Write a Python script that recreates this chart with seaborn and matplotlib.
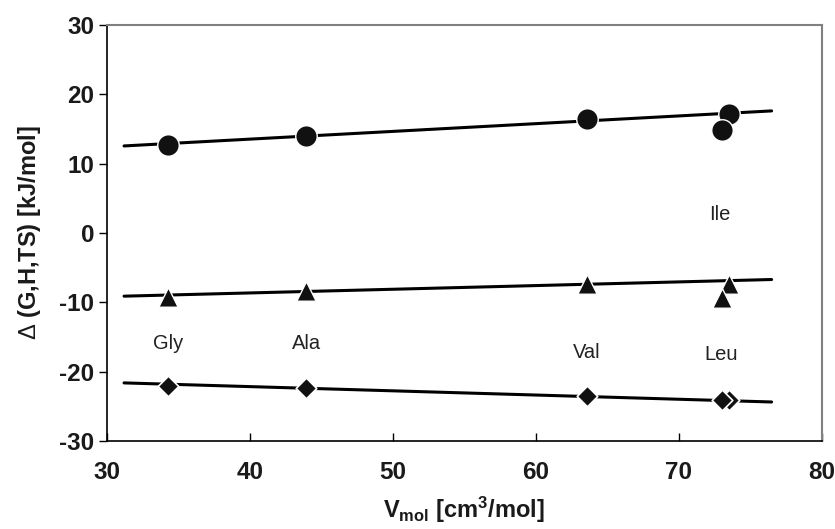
import matplotlib
matplotlib.use("Agg")
import matplotlib.pyplot as plt
import seaborn as sns
import numpy as np

# ---- data ----
amino = ["Gly", "Ala", "Val", "Ile", "Leu"]
vmol = [34.3, 43.9, 63.6, 73.5, 73.0]
dG = [12.7, 14.0, 16.4, 17.2, 14.8]        # circles
dH = [-9.2, -8.4, -7.4, -7.3, -9.3]        # triangles
dTS = [-22.0, -22.3, -23.5, -24.0, -24.0]  # diamonds

fit_x = [31.2, 76.5]
fit_G = [12.55, 17.6]
fit_H = [-9.1, -6.7]
fit_TS = [-21.6, -24.35]

label_names = ["Gly", "Ala", "Val", "Leu", "Ile"]
label_x = [34.3, 44.0, 63.6, 73.0, 72.9]
label_y = [-15.9, -15.9, -17.2, -17.5, 2.6]

xticks = [30, 40, 50, 60, 70, 80]
yticks = [-30, -20, -10, 0, 10, 20, 30]

sns.set_theme(style="white")
plt.rcParams['font.family'] = ['Liberation Sans', 'DejaVu Sans']
plt.rcParams['axes.unicode_minus'] = False
plt.rcParams['mathtext.fontset'] = 'custom'
plt.rcParams['mathtext.rm'] = 'Liberation Sans:bold'
plt.rcParams['mathtext.bf'] = 'Liberation Sans:bold'
plt.rcParams['mathtext.it'] = 'Liberation Sans:bold'
plt.rcParams['mathtext.sf'] = 'Liberation Sans'

fig = plt.figure(figsize=(8.35, 5.29), dpi=100)
ax = fig.add_axes([0.128, 0.166, 0.856, 0.787])

for fy in (fit_G, fit_H, fit_TS):
    sns.lineplot(x=fit_x, y=fy, ax=ax, color='black', linewidth=2.2, zorder=2)

sns.scatterplot(x=vmol, y=dG, ax=ax, marker='o', s=15.5**2, color='#111111',
                edgecolor='white', linewidth=1.0, zorder=3, legend=False)
sns.scatterplot(x=vmol, y=dH, ax=ax, marker='^', s=14**2, color='#111111',
                edgecolor='white', linewidth=1.0, zorder=3, legend=False)
sns.scatterplot(x=vmol, y=dTS, ax=ax, marker='D', s=10.5**2, color='#111111',
                edgecolor='white', linewidth=1.2, zorder=3, legend=False)

for n, lx, ly in zip(label_names, label_x, label_y):
    ax.text(lx, ly, n, ha='center', va='center', fontsize=14.5, color='#222222')

ax.set_xlim(30, 80)
ax.set_ylim(-30, 30)
ax.set_xticks(xticks)
ax.set_yticks(yticks)
ax.tick_params(axis='x', direction='in', length=6, width=1, color='black',
               labelsize=17.5, pad=14, bottom=True)
ax.tick_params(axis='y', direction='out', length=6, width=1, color='black',
               labelsize=17.5, pad=3, left=True)
for lab in ax.get_xticklabels() + ax.get_yticklabels():
    lab.set_fontweight('bold')
    lab.set_color('#1a1a1a')

for side in ('left', 'bottom'):
    ax.spines[side].set_color('black')
    ax.spines[side].set_linewidth(1.2)
for side in ('top', 'right'):
    ax.spines[side].set_color('#808080')
    ax.spines[side].set_linewidth(1.5)

ax.set_xlabel(r"$\mathbf{V}_{\mathbf{mol}}$ [cm$^{\mathbf{3}}$/mol]",
              fontsize=17, fontweight='bold', color='#1a1a1a', labelpad=8)
ax.set_ylabel(r"$\mathsf{\Delta}$ (G,H,TS) [kJ/mol]", fontsize=17, fontweight='bold',
              color='#1a1a1a', labelpad=12)

fig.savefig("out.png", dpi=100)
